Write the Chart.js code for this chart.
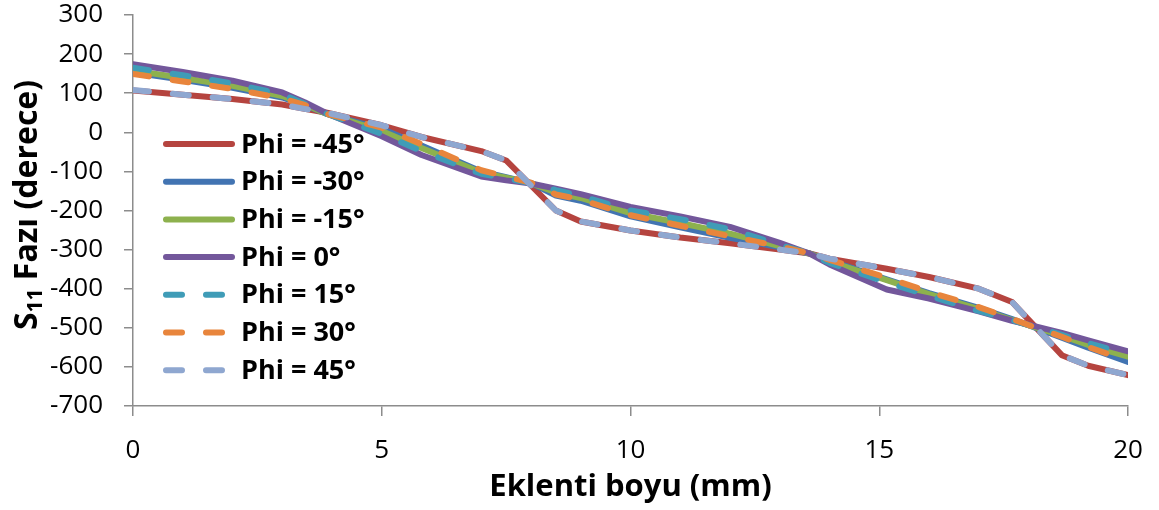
<!DOCTYPE html>
<html>
<head>
<meta charset="utf-8">
<script src="https://cdn.jsdelivr.net/npm/chart.js@4.4.1/dist/chart.umd.min.js"></script>
<style>
  html, body { margin: 0; padding: 0; background: #fff; }
  #c { display: block; }
</style>
</head>
<body>
<canvas id="c" width="1159" height="510"></canvas>
<script>
// Stub length (mm), shared by every series
const lengthMm = [0, 1, 2, 3, 3.45, 3.9, 5, 5.8, 7, 7.5, 8, 8.5, 9, 10, 11, 12, 13, 13.6, 14, 15.15, 16, 17, 17.67, 18, 18.67, 19.2, 20];

// S11 phase (degrees) for each Phi angle
const phiM45 = [107, 96, 85, 71, 60, 50, 18, -12, -48, -72, -136, -200, -228, -251, -269, -284, -300, -310, -323, -349, -370, -400, -434, -479, -570, -597, -621];
const phiM30 = [153, 134, 114, 89, 69, 47, 9, -34, -100, -115, -130, -162, -175, -215, -243, -270, -294, -310, -328, -376, -411, -449, -478, -493, -525, -551, -587];
const phiM15 = [158, 139, 119, 93, 71, 47, 3, -40, -103, -116, -130, -154, -168, -207, -232, -259, -291, -310, -331, -378, -414, -452, -480, -493, -520, -544, -574];
const phi0   = [174, 154, 132, 102, 77, 48, -10, -58, -113, -123, -131, -144, -158, -191, -215, -242, -283, -310, -338, -402, -425, -458, -482, -492, -513, -532, -560];
const phiP15 = [165, 146, 125, 97, 73, 47, -4, -48, -106, -118, -130, -148, -163, -200, -222, -248, -288, -310, -334, -384, -418, -457, -481, -493, -518, -539, -567];
const phiP30 = [149, 130, 111, 87, 70, 47, 12, -30, -97, -113, -129, -159, -172, -212, -239, -266, -292, -310, -326, -372, -408, -447, -477, -493, -523, -549, -585];
const phiP45 = [108, 96, 85, 71, 60, 50, 18, -12, -48, -72, -136, -200, -228, -251, -269, -284, -300, -310, -323, -349, -370, -400, -434, -479, -570, -597, -621];

const seriesLabels = ['Phi = -45°', 'Phi = -30°', 'Phi = -15°', 'Phi = 0°', 'Phi = 15°', 'Phi = 30°', 'Phi = 45°'];
const seriesValues = [phiM45, phiM30, phiM15, phi0, phiP15, phiP30, phiP45];
const seriesColors = ['#B5443F', '#4274B2', '#8DB14E', '#73579B', '#3F9CB7', '#E8853C', '#8FA7D0'];
const seriesDashed = [false, false, false, false, true, true, true];

const xTicks = { min: 0, max: 20, step: 5 };
const yTicks = { min: -700, max: 300, step: 100 };

const DASH = [16, 24];
const FONT = '"Open Sans", "Liberation Sans", sans-serif';

const datasets = seriesValues.map((vals, i) => ({
  label: seriesLabels[i],
  data: lengthMm.map((x, k) => ({ x: x, y: vals[k] })),
  borderColor: seriesColors[i],
  backgroundColor: seriesColors[i],
  borderWidth: 6,
  borderDash: seriesDashed[i] ? DASH : [],
  borderCapStyle: 'round',
  borderJoinStyle: 'round',
  pointRadius: 0,
  tension: 0,
  fill: false,
  // later series are painted above earlier ones
  order: seriesValues.length - i
}));

// Legend drawn inside the plot area, left side
const insideLegend = {
  id: 'insideLegend',
  afterDatasetsDraw(chart) {
    const ctx = chart.ctx;
    const x0 = 166, x1 = 232, textX = 241, top = 144, gap = 37.7;
    chart.data.datasets.forEach((ds, i) => {
      const y = top + i * gap;
      ctx.save();
      ctx.strokeStyle = ds.borderColor;
      ctx.lineWidth = ds.borderWidth;
      ctx.lineCap = 'round';
      ctx.setLineDash(ds.borderDash || []);
      ctx.beginPath();
      ctx.moveTo(x0, y);
      ctx.lineTo(x1, y);
      ctx.stroke();
      ctx.setLineDash([]);
      ctx.fillStyle = '#000';
      ctx.font = 'bold 27px ' + FONT;
      ctx.textBaseline = 'middle';
      ctx.textAlign = 'left';
      ctx.fillText(ds.label, textX, y + 1);
      ctx.restore();
    });
  }
};

// Rotated y-axis title with subscript
const yAxisTitle = {
  id: 'yAxisTitle',
  afterDraw(chart) {
    const ctx = chart.ctx;
    const big = 'bold 32px ' + FONT;
    const small = 'bold 21px ' + FONT;
    ctx.save();
    ctx.font = big;
    const wS = ctx.measureText('S').width;
    const rest = ' Fazı (derece)';
    const wRest = ctx.measureText(rest).width;
    ctx.font = small;
    const wSub = ctx.measureText('11').width;
    const total = wS + wSub + wRest;
    ctx.translate(37, 205);
    ctx.rotate(-Math.PI / 2);
    ctx.fillStyle = '#000';
    ctx.textBaseline = 'alphabetic';
    ctx.textAlign = 'left';
    let x = -total / 2;
    ctx.font = big;
    ctx.fillText('S', x, 0);
    x += wS;
    ctx.font = small;
    ctx.fillText('11', x, 5);
    x += wSub;
    ctx.font = big;
    ctx.fillText(rest, x, 0);
    ctx.restore();
  }
};

new Chart(document.getElementById('c'), {
  type: 'line',
  data: { datasets: datasets },
  options: {
    responsive: false,
    animation: false,
    events: [],
    layout: { padding: { left: 0, right: 31, top: 15, bottom: 0 } },
    plugins: { legend: { display: false }, tooltip: { enabled: false } },
    scales: {
      x: {
        type: 'linear',
        min: xTicks.min,
        max: xTicks.max,
        ticks: { stepSize: xTicks.step, color: '#000', font: { family: FONT, size: 26 }, padding: 19 },
        grid: { display: true, drawOnChartArea: false, drawTicks: true, tickLength: 10, color: '#8c8c8c', lineWidth: 1.5 },
        border: { display: true, color: '#8c8c8c', width: 1.5 },
        title: { display: true, text: 'Eklenti boyu (mm)', color: '#000', font: { family: FONT, size: 31, weight: 'bold' }, padding: { top: 0, bottom: 4 } },
        afterFit(scale) {
          scale.height = 104;
          scale.paddingLeft = 0;
          scale.paddingRight = 0;
        }
      },
      y: {
        min: yTicks.min,
        max: yTicks.max,
        ticks: { stepSize: yTicks.step, color: '#000', font: { family: FONT, size: 26 }, padding: 21 },
        grid: { display: true, drawOnChartArea: false, drawTicks: true, tickLength: 9, color: '#8c8c8c', lineWidth: 1.5 },
        border: { display: true, color: '#8c8c8c', width: 1.5 },
        afterFit(scale) {
          scale.width = 133;
          scale.paddingTop = 0;
          scale.paddingBottom = 0;
        }
      }
    }
  },
  plugins: [insideLegend, yAxisTitle]
});
</script>
</body>
</html>
